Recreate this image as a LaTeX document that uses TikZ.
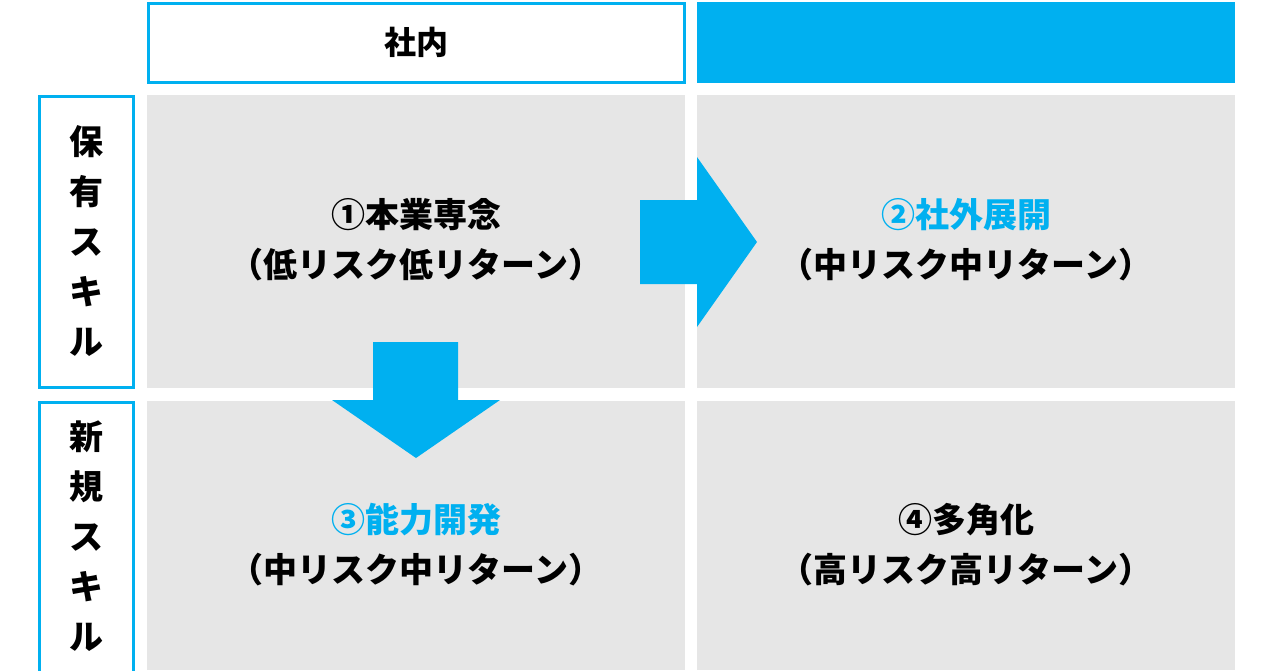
\documentclass[tikz,border=0pt]{standalone}
\usepackage{fontspec}
\setmainfont{Noto Sans CJK JP}
\definecolor{skyblue}{RGB}{0,176,240}
\definecolor{cellgray}{RGB}{230,230,230}
\tikzset{every picture/.style={line width=0.75pt}}
\tikzset{
  cell/.style={fill=cellgray, draw=none},
  cellText/.style={align=center, font=\fontsize{34}{50}\selectfont\bfseries},
  sideText/.style={align=center, font=\fontsize{34}{50}\selectfont\bfseries},
}
\begin{document}
\begin{tikzpicture}[x=1pt, y=1pt, yscale=-1, xscale=1]
    \useasboundingbox (0,0) rectangle (1280,670);

    % headers
    \draw [draw=skyblue, line width=3pt, fill=white] (148,3) rectangle (684,82)
          node [midway, font=\fontsize{32}{40}\selectfont\bfseries] (inside) {社内};
    \fill [skyblue] (697,2) rectangle (1235,83)
          node [midway, font=\fontsize{32}{40}\selectfont\bfseries] (outside) {社外};

    % side labels
    \draw [draw=skyblue, line width=3pt, fill=white] (39,96) rectangle (133,387)
          node [midway, sideText] (held) {保\\有\\ス\\キ\\ル};
    \draw [draw=skyblue, line width=3pt, fill=white] (39,402) rectangle (133,680);
    \node [sideText, anchor=north] (new) at (86,417) {新\\規\\ス\\キ\\ル};

    % cells
    \fill [cell] (147, 95) rectangle (685,388);
    \fill [cell] (697, 95) rectangle (1235,388);
    \fill [cell] (147,401) rectangle (685,670);
    \fill [cell] (697,401) rectangle (1235,670);

    % arrows
    \fill [skyblue] (640,200) -- (697,200) -- (697,157) -- (757,242)
          -- (697,327) -- (697,284) -- (640,284) -- cycle;
    \fill [skyblue] (373,342) -- (458,342) -- (458,400) -- (500,400)
          -- (416,458) -- (332,400) -- (373,400) -- cycle;

    % cell texts
    \node [cellText] (core) at (416,240) {①本業専念\\（低リスク低リターン）};
    \node [cellText] (expand) at (966,240) {\textcolor{skyblue}{②社外展開}\\（中リスク中リターン）};
    \node [cellText] (develop) at (416,545) {\textcolor{skyblue}{③能力開発}\\（中リスク中リターン）};
    \node [cellText] (diverse) at (966,545) {④多角化\\（高リスク高リターン）};

  \end{tikzpicture}
\end{document}
